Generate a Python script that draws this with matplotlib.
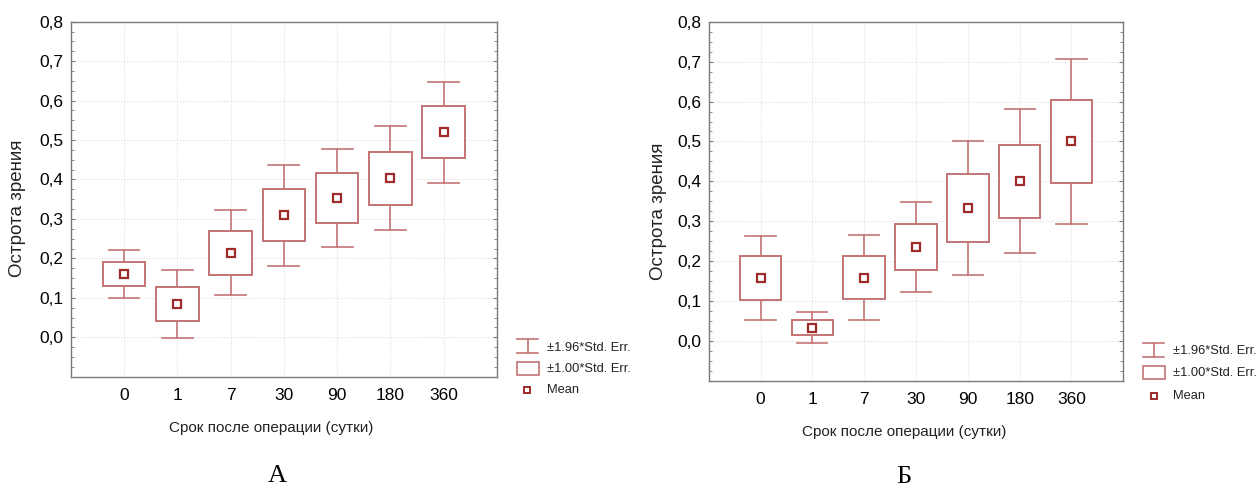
import numpy as np
import matplotlib.pyplot as plt
from matplotlib.lines import Line2D
from matplotlib.patches import Rectangle
from matplotlib.ticker import FuncFormatter, MultipleLocator

plt.rcParams['font.family'] = ['Liberation Sans', 'DejaVu Sans']

# days after surgery
days = ['0', '1', '7', '30', '90', '180', '360']

# panel A: means and standard errors
mean_a = [0.161, 0.084, 0.214, 0.309, 0.354, 0.403, 0.520]
se_a = [0.031, 0.044, 0.055, 0.0656, 0.0634, 0.067, 0.0655]

# panel B
mean_b = [0.158, 0.034, 0.159, 0.235, 0.334, 0.400, 0.500]
se_b = [0.054, 0.0197, 0.054, 0.0575, 0.0855, 0.092, 0.105]

W, H = 1256, 488
EDGE = '#c47474'
MEAN = '#9e2a2a'
SPINE = '#7a7a7a'


def fx(px):
    return px / W


def fy(py):
    return 1 - py / H


def draw_panel(ax, means, ses):
    x = np.arange(len(days))
    means = np.array(means)
    ses = np.array(ses)
    box_w = 0.8
    cap_w = 0.58
    for xi, m, s in zip(x, means, ses):
        lo, hi = m - 1.96 * s, m + 1.96 * s
        ax.plot([xi, xi], [m + s, hi], color=EDGE, lw=1.2, zorder=3)
        ax.plot([xi, xi], [lo, m - s], color=EDGE, lw=1.2, zorder=3)
        ax.plot([xi - cap_w / 2, xi + cap_w / 2], [hi, hi], color=EDGE, lw=1.2, zorder=3)
        ax.plot([xi - cap_w / 2, xi + cap_w / 2], [lo, lo], color=EDGE, lw=1.2, zorder=3)
        ax.add_patch(Rectangle((xi - box_w / 2, m - s), box_w, 2 * s,
                               facecolor='white', edgecolor=EDGE, lw=1.4, zorder=3))
    ax.plot(x, means, 's', color=MEAN, mfc='white', mec=MEAN, mew=1.6, ms=5.5, zorder=4)

    ax.set_xlim(-1, 7)
    ax.set_ylim(-0.1, 0.8)
    ax.set_xticks(x)
    ax.set_xticklabels(days)
    ax.set_yticks(np.arange(0, 0.81, 0.1))
    ax.yaxis.set_major_formatter(FuncFormatter(lambda v, p: ('%.1f' % v).replace('.', ',')))
    ax.yaxis.set_minor_locator(MultipleLocator(0.025))
    ax.tick_params(axis='both', which='major', direction='in', length=3, color=SPINE,
                   labelsize=12.5)
    ax.tick_params(axis='y', which='major', pad=5, right=True)
    ax.tick_params(axis='y', which='minor', direction='in', length=2, color=SPINE, right=True)
    ax.tick_params(axis='x', which='major', pad=8, length=0)
    ax.grid(True, color='#e0e0e0', ls=(0, (1, 1.5)), lw=0.8, zorder=0)
    for sp in ax.spines.values():
        sp.set_color(SPINE)
        sp.set_linewidth(1.0)


def draw_legend(fig, x0, ytop, xtext, rows_y, mx):
    # errorbar icon
    x1 = x0 + 21
    xc = (x0 + x1) / 2
    kw = dict(color=EDGE, lw=1.2, transform=fig.transFigure)
    fig.add_artist(Line2D([fx(x0), fx(x1)], [fy(ytop), fy(ytop)], **kw))
    fig.add_artist(Line2D([fx(x0), fx(x1)], [fy(ytop + 14), fy(ytop + 14)], **kw))
    fig.add_artist(Line2D([fx(xc), fx(xc)], [fy(ytop), fy(ytop + 14)], **kw))
    # box icon
    fig.add_artist(Rectangle((fx(x0), fy(ytop + 36)), fx(22), 13 / H, facecolor='white',
                             edgecolor=EDGE, lw=1.2, transform=fig.transFigure))
    # mean icon
    fig.add_artist(Line2D([fx(mx)], [fy(rows_y[2])], marker='s', ms=4.5, mfc='white',
                          mec=MEAN, mew=1.4, transform=fig.transFigure))
    labels = ['±1.96*Std. Err.', '±1.00*Std. Err.', 'Mean']
    for lab, yy in zip(labels, rows_y):
        fig.text(fx(xtext), fy(yy), lab, fontsize=9.3, va='center', ha='left', color='#222222')


fig = plt.figure(figsize=(12.56, 4.88), dpi=100)

ax_a = fig.add_axes([fx(70.7), fy(376.7), fx(426.3), 355 / H])
draw_panel(ax_a, mean_a, se_a)
ax_b = fig.add_axes([fx(708.7), fy(381), fx(414.6), 359.3 / H])
draw_panel(ax_b, mean_b, se_b)

ylab = 'Острота зрения'
xlab = 'Срок после операции (сутки)'
fig.text(fx(18), fy(208), ylab, rotation=90, fontsize=13.5, va='center', ha='center', color='#222222')
fig.text(fx(658), fy(211), ylab, rotation=90, fontsize=13.5, va='center', ha='center', color='#222222')
fig.text(fx(271), fy(428), xlab, fontsize=11, va='center', ha='center', color='#222222')
fig.text(fx(904), fy(432), xlab, fontsize=11, va='center', ha='center', color='#222222')

fig.text(fx(277), fy(476), 'А', fontsize=19, va='center', ha='center', family='Liberation Serif')
fig.text(fx(904), fy(477), 'Б', fontsize=19, va='center', ha='center', family='Liberation Serif')

draw_legend(fig, 517, 339, 547, [348, 369, 390], 527)
draw_legend(fig, 1143, 343, 1173, [351, 373, 396], 1154)

fig.savefig('out.png', dpi=100)
